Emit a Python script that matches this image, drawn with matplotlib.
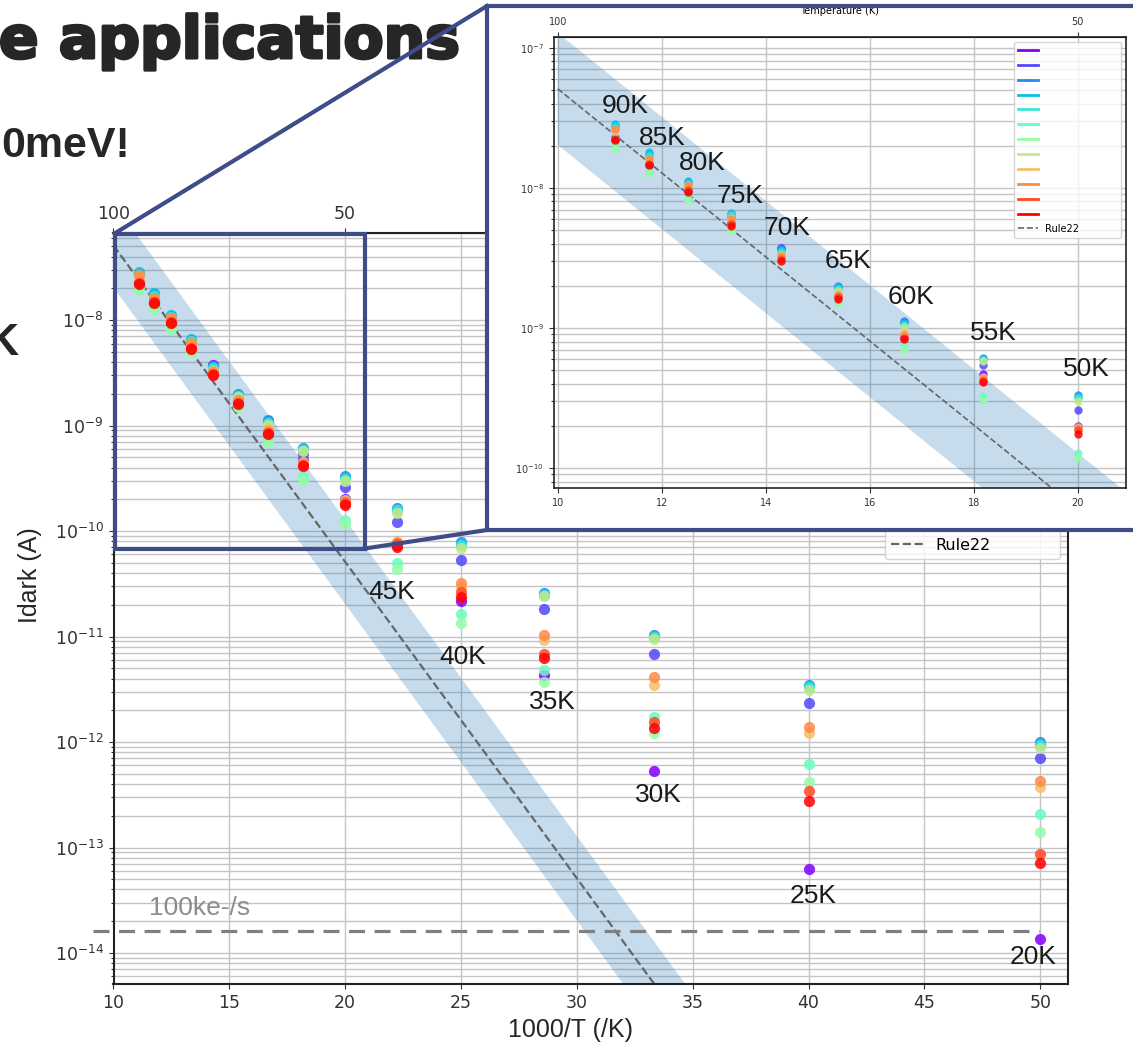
import numpy as np
import matplotlib
matplotlib.use('Agg')
import matplotlib.pyplot as plt
import matplotlib.patheffects as pe
from matplotlib.patches import Rectangle
from matplotlib.lines import Line2D
from matplotlib.ticker import LogLocator, NullFormatter, NullLocator

# temperatures (K) of each measurement
temps = [90, 85, 80, 75, 70, 65, 60, 55, 50, 45, 40, 35, 30, 25, 20]

# dark current (A) per device, rainbow order
series_01 = [2.2e-8, 1.45e-8, 9.5e-9, 5.6e-9, 3.75e-9, 1.7e-9, 8.6e-10, 4.7e-10, 2.0e-10, 7.4e-11, 2.18e-11, 4.3e-12, 5.3e-13, 6.2e-14, 1.35e-14]
series_02 = [2.3e-8, 1.5e-8, 9.8e-9, 6.2e-9, 3.7e-9, 1.97e-9, 1.1e-9, 5.4e-10, 2.6e-10, 1.21e-10, 5.3e-11, 1.81e-11, 6.9e-12, 2.36e-12, 7.1e-13]
series_03 = [2.75e-8, 1.75e-8, 1.1e-8, 6.5e-9, 3.65e-9, 2.0e-9, 1.12e-9, 6.1e-10, 3.3e-10, 1.65e-10, 7.8e-11, 2.6e-11, 1.04e-11, 3.45e-12, 9.9e-13]
series_04 = [2.85e-8, 1.8e-8, 1.12e-8, 6.6e-9, 3.6e-9, 1.95e-9, 1.08e-9, 6.0e-10, 3.2e-10, 1.6e-10, 7.6e-11, 2.5e-11, 1.0e-11, 3.35e-12, 9.6e-13]
series_05 = [2.7e-8, 1.7e-8, 1.07e-8, 6.4e-9, 3.5e-9, 1.9e-9, 1.05e-9, 5.9e-10, 3.15e-10, 1.57e-10, 7.4e-11, 2.48e-11, 9.8e-12, 3.3e-12, 9.4e-13]
series_06 = [2.0e-8, 1.3e-8, 8.5e-9, 5.1e-9, 3.15e-9, 1.55e-9, 7.5e-10, 3.27e-10, 1.28e-10, 4.94e-11, 1.62e-11, 4.8e-12, 1.74e-12, 6.2e-13, 2.08e-13]
series_07 = [1.91e-8, 1.27e-8, 8.16e-9, 4.99e-9, 3.1e-9, 1.51e-9, 7.0e-10, 3.05e-10, 1.17e-10, 4.33e-11, 1.33e-11, 3.73e-12, 1.21e-12, 4.2e-13, 1.39e-13]
series_08 = [2.5e-8, 1.55e-8, 1.0e-8, 6.0e-9, 3.3e-9, 1.85e-9, 1.01e-9, 5.8e-10, 3.0e-10, 1.5e-10, 6.95e-11, 2.42e-11, 9.5e-12, 3.1e-12, 8.7e-13]
series_09 = [2.6e-8, 1.62e-8, 1.05e-8, 6.1e-9, 3.3e-9, 1.75e-9, 9.2e-10, 4.5e-10, 1.95e-10, 7.7e-11, 2.96e-11, 9.3e-12, 3.5e-12, 1.21e-12, 3.77e-13]
series_10 = [2.65e-8, 1.62e-8, 1.04e-8, 6.04e-9, 3.25e-9, 1.73e-9, 8.9e-10, 4.3e-10, 1.9e-10, 7.9e-11, 3.19e-11, 1.03e-11, 4.1e-12, 1.4e-12, 4.3e-13]
series_11 = [2.25e-8, 1.48e-8, 9.6e-9, 5.5e-9, 3.1e-9, 1.65e-9, 8.5e-10, 4.2e-10, 1.86e-10, 7.5e-11, 2.66e-11, 6.8e-12, 1.56e-12, 3.43e-13, 8.6e-14]
series_12 = [2.19e-8, 1.45e-8, 9.36e-9, 5.32e-9, 3.0e-9, 1.6e-9, 8.4e-10, 4.11e-10, 1.76e-10, 7.1e-11, 2.38e-11, 6.2e-12, 1.35e-12, 2.78e-13, 7.2e-14]

# Rule22 line and its band (1000/T, A)
rule22_x = [10, 36]
rule22_y = [5.1e-8, 8.1e-16]
band_lo = [2.03e-8, 3.2e-16]
band_hi = [1.28e-7, 2.03e-15]

floor_100ke = 1.602e-14   # 100 ke-/s

main_xticks = [10, 15, 20, 25, 30, 35, 40, 45, 50]
inset_xticks = [10, 12, 14, 16, 18, 20]
top_ticks = [100, 50]

inset_temp_labels = ['90K', '85K', '80K', '75K', '70K', '65K', '60K', '55K', '50K']
main_temp_labels = ['45K', '40K', '35K', '30K', '25K', '20K']

W, H = 1133, 1047
navy = '#3f4c88'


def fx(p):
    return p / W


def fy(p):
    return 1 - p / H


def inv(v):
    v = np.asarray(v, dtype=float)
    with np.errstate(divide='ignore'):
        return 1000.0 / v


series = [series_01, series_02, series_03, series_04, series_05, series_06,
          series_07, series_08, series_09, series_10, series_11, series_12]
colors = plt.cm.rainbow(np.linspace(0, 1, len(series)))
x = [1000.0 / t for t in temps]

fig = plt.figure(figsize=(W / 100, H / 100), dpi=100)


def draw(a, msize, fs, lw_rule):
    a.fill_between(rule22_x, band_lo, band_hi, color='#1f77b4', alpha=0.25, lw=0)
    rule, = a.plot(rule22_x, rule22_y, ls='--', color='#666666', lw=lw_rule)
    for s, c in zip(series, colors):
        a.scatter(x, s, s=msize, color=c, alpha=0.85, lw=0, zorder=3)
    a.set_yscale('log')
    a.yaxis.set_major_locator(LogLocator(base=10, numticks=30))
    a.yaxis.set_minor_locator(LogLocator(base=10, subs=np.arange(2, 10), numticks=200))
    a.yaxis.set_minor_formatter(NullFormatter())
    a.grid(True, which='major', color='#c4c4c4', lw=1)
    a.grid(True, which='minor', axis='y', color='#c4c4c4', lw=1)
    a.set_axisbelow(True)
    a.tick_params(labelsize=fs, colors='#333333')
    for sp in a.spines.values():
        sp.set_color('#222222')
    handles = [Line2D([0], [0], color=c, lw=2) for c in colors] + [rule]
    labels = [' ' * 23] * len(series) + ['Rule22']
    return handles, labels


# main chart
ax = fig.add_axes([fx(113.5), fy(984), (1068 - 113.5) / W, (984 - 233) / H], zorder=0)
h, l = draw(ax, 65, 12.5, 1.6)
ax.set_xlim(10, 51.2)
ax.set_ylim(5.08e-15, 6.7e-8)
ax.set_xticks(main_xticks)
for sp in ax.spines.values():
    sp.set_linewidth(1.5)
ax.legend(h, l, loc='lower right', bbox_to_anchor=(0.9916, 0.566), borderaxespad=0, fontsize=11.5)
ax.axhline(floor_100ke, xmin=-0.021, xmax=0.97, color='#808080', lw=2.3,
           dashes=(5, 3), clip_on=False)
sec = ax.secondary_xaxis('top', functions=(inv, inv))
sec.set_xticks(top_ticks)
sec.xaxis.set_minor_locator(NullLocator())
sec.tick_params(labelsize=12.5, colors='#333333')

sans = ['Liberation Sans', 'DejaVu Sans']
fig.text(fx(30), fy(575), 'Idark (A)', rotation=90, ha='center', va='center',
         fontsize=18, family=sans, color='#262626')
fig.text(fx(571), fy(1030), '1000/T (/K)', ha='center', va='center',
         fontsize=18, family=sans, color='#262626')
fig.text(fx(149), fy(908), '100ke-/s', ha='left', va='center', fontsize=19,
         family=sans, color='#8c8c8c', zorder=1.5)

main_label_px = [(392, 592), (463, 657), (552, 702), (658, 795), (813, 896), (1033, 957)]
for txt, (px, py) in zip(main_temp_labels, main_label_px):
    fig.text(fx(px), fy(py), txt, ha='center', va='center', fontsize=19,
             family=sans, color='#1a1a1a', zorder=1.5)

# slide text
heavy = [pe.withStroke(linewidth=2.2, foreground='#262626')]
fig.text(fx(-1), fy(58), 'e applications', ha='left', va='baseline', fontsize=42,
         family='DejaVu Sans', weight='bold', color='#262626', zorder=0.5,
         path_effects=heavy)
fig.text(fx(1), fy(157), '0meV!', ha='left', va='baseline', fontsize=31,
         family=sans, weight='bold', color='#262626', zorder=0.5)
fig.text(fx(19), fy(355), 'K', ha='right', va='baseline', fontsize=32,
         family=sans, weight='bold', color='#262626', zorder=0.5)

# zoom box and connectors
fig.add_artist(Rectangle((fx(114.5), fy(548.5)), (365 - 114.5) / W, (548.5 - 233.5) / H,
                         transform=fig.transFigure, fill=False, ec=navy, lw=3, zorder=1))
fig.add_artist(Line2D([fx(114.5), fx(487)], [fy(233.5), fy(6)], transform=fig.transFigure,
                      color=navy, lw=3, zorder=1))
fig.add_artist(Line2D([fx(365), fx(487)], [fy(548.5), fy(530)], transform=fig.transFigure,
                      color=navy, lw=3, zorder=1))

# inset panel
fig.add_artist(Rectangle((fx(487), fy(530)), (1160 - 487) / W, (530 - 6) / H,
                         transform=fig.transFigure, fc='white', ec='none', zorder=2))
fig.add_artist(Rectangle((fx(487), fy(530)), (1160 - 487) / W, (530 - 6) / H,
                         transform=fig.transFigure, fill=False, ec=navy, lw=3, zorder=4))

axi = fig.add_axes([fx(553.5), fy(488), (1126 - 553.5) / W, (488 - 36.7) / H], zorder=3)
h, l = draw(axi, 36, 7, 1.2)
axi.set_xlim(9.92, 20.93)
axi.set_ylim(7.2e-11, 1.2e-7)
axi.set_xticks(inset_xticks)
for sp in axi.spines.values():
    sp.set_linewidth(1.2)
axi.legend(h, l, loc='upper right', fontsize=7)
seci = axi.secondary_xaxis('top', functions=(inv, inv))
seci.set_xticks(top_ticks)
seci.xaxis.set_minor_locator(NullLocator())
seci.tick_params(labelsize=7, colors='#333333')
seci.set_xlabel('Temperature (K)', fontsize=7, labelpad=2)

inset_label_px = [(625, 106), (662, 138), (702, 163), (740, 196), (787, 228),
                  (848, 261), (911, 297), (993, 333), (1086, 369)]
for txt, (px, py) in zip(inset_temp_labels, inset_label_px):
    fig.text(fx(px), fy(py), txt, ha='center', va='center', fontsize=19,
             family=sans, color='#1a1a1a', zorder=5)

fig.savefig('out.png', dpi=100, facecolor='white')
